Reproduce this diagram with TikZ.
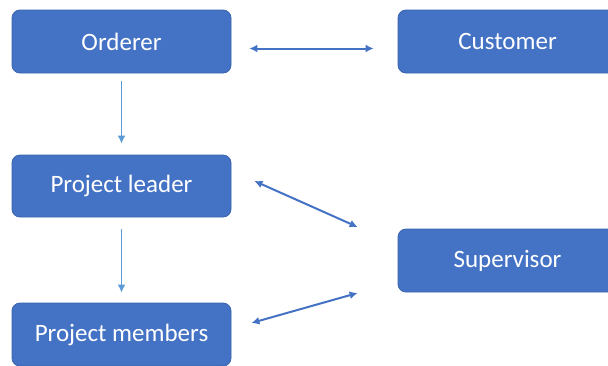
\documentclass[tikz,border=0pt]{standalone}
\usepackage{fontspec}
\setmainfont{Carlito}
\usetikzlibrary{arrows.meta,calc}
\definecolor{boxblue}{HTML}{4472C4}
\definecolor{boxedge}{HTML}{3A63AE}
\definecolor{linkblue}{HTML}{4472C4}
\definecolor{flowblue}{HTML}{5B9BD5}
\begin{document}
\begin{tikzpicture}[x=1pt,y=-1pt,
  role/.style={draw=boxedge,line width=0.8pt,fill=boxblue,rounded corners=8pt,
    minimum width=219pt,minimum height=63pt,text=white,font=\fontsize{25}{28}\selectfont,inner sep=0pt},
  link/.style={linkblue,line width=2pt,{Latex[length=8pt,width=8pt]}-{Latex[length=8pt,width=8pt]}},
  flow/.style={flowblue,line width=1.8pt,-{Latex[length=8pt,width=8pt]}}]
  \useasboundingbox (0,0) rectangle (608,365);
  \begin{scope}
    \clip (0,0) rectangle (608,365);
    \node[role] (ord) at (121.5,41.5) {Orderer};
    \node[role] (cus) at (507.5,41.5) {Customer};
    \node[role,minimum height=62pt] (pl) at (121.5,186) {Project leader};
    \node[role] (sup) at (507.5,260.5) {Supervisor};
    \node[role] (pm) at (121.5,334.5) {Project members};
  \end{scope}
  % two-way links
  \draw[link] ($(ord.east)+(18,7)$) -- ($(cus.west)+(-24,7)$);
  \draw[link] ($(pl.east)+(23,-5)$) -- ($(sup.west)+(-40,-33.5)$);
  \draw[link] ($(pm.east)+(20,-11.5)$) -- ($(sup.west)+(-40,32.5)$);
  % reporting line
  \draw[flow] ($(ord.south)+(0,8)$) -- ($(pl.north)+(0,-11)$);
  \draw[flow] ($(pl.south)+(0,12)$) -- ($(pm.north)+(0,-10)$);
\end{tikzpicture}
\end{document}
